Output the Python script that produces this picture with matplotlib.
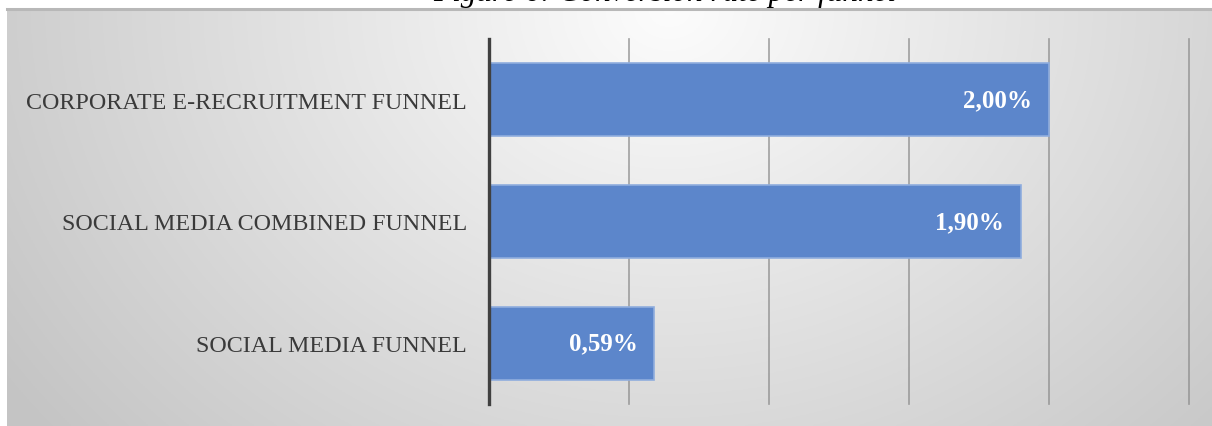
import numpy as np
import matplotlib
matplotlib.use("Agg")
import matplotlib.pyplot as plt
from matplotlib.lines import Line2D

categories = ["SOCIAL MEDIA FUNNEL", "SOCIAL MEDIA COMBINED FUNNEL", "CORPORATE E-RECRUITMENT FUNNEL"]
values = [0.59, 1.90, 2.00]
value_labels = ["0,59%", "1,90%", "2,00%"]
title = "Figure 6: Conversion rate per funnel"

W, H = 1212, 427
fig = plt.figure(figsize=(W / 100, H / 100), dpi=100)
fig.patch.set_facecolor("white")

# background gradient panel
bx0, by_top = 7, 10
bg = fig.add_axes([bx0 / W, 0, 1 - bx0 / W, (H - by_top) / H])
bg.set_axis_off()
nx, ny = 600, 220
xx, yy = np.meshgrid(np.linspace(0, 1, nx), np.linspace(0, 1, ny))
cx, cy = 0.55, 0.0  # top-center light spot (image coords, y down)
d = np.sqrt(((xx - cx) / 0.67) ** 2 + ((yy - cy) / 1.6) ** 2)
d = np.clip(d, 0, 1)
light, dark = 0.99, 0.77
g = light - (light - dark) * d
img = np.dstack([g, g, g])
bg.imshow(img, aspect="auto", extent=[0, 1, 0, 1], origin="upper")
bg.set_xlim(0, 1)
bg.set_ylim(0, 1)

# top border line
fig.add_artist(Line2D([bx0 / W, 1], [1 - 9.5 / H, 1 - 9.5 / H], color="#b8b8b8", lw=2.2,
                      transform=fig.transFigure))

# title, clipped by the top edge as in the reference
fig.text(665 / W, 1 - 1.5 / H, title, ha="center", va="baseline", fontsize=22.5,
         style="italic", family="Liberation Serif", color="black")

# main axes
x0, x1 = 489, 1189
y_top, y_bot = 40, 405
ax = fig.add_axes([x0 / W, (H - y_bot) / H, (x1 - x0) / W, (y_bot - y_top) / H])
ax.patch.set_alpha(0)
ypos = np.arange(len(categories))
bars = ax.barh(ypos, values, height=0.6, color="#5c86cb", edgecolor="#8fadde", linewidth=1.2, zorder=3)
ax.set_xlim(0, 2.5)
ax.set_ylim(-0.5, len(categories) - 0.5)
ax.set_xticks([0.5, 1.0, 1.5, 2.0, 2.5])
ax.grid(axis="x", color="#8c8c8c", lw=1.2, alpha=0.8, zorder=0)
ax.tick_params(axis="x", length=0, labelbottom=False)
ax.tick_params(axis="y", length=0, pad=16)
ax.set_yticks(ypos)
ax.set_yticklabels(categories, family="Liberation Serif", fontsize=17.25, color="#3a3a3a")
for s in ["top", "right", "bottom"]:
    ax.spines[s].set_visible(False)
ax.spines["left"].set_color("#404040")
ax.spines["left"].set_linewidth(2.4)
ax.spines["left"].set_zorder(5)
for l in ax.get_xgridlines():
    l.set_clip_on(False)

for b, v, lab in zip(bars, values, value_labels):
    ax.annotate(lab, (v, b.get_y() + b.get_height() / 2), xytext=(-12, 0), textcoords="offset points",
                ha="right", va="center", color="white", fontsize=18, fontweight="bold",
                family="Liberation Serif", zorder=6)

fig.savefig("out.png", dpi=100, facecolor="white")
